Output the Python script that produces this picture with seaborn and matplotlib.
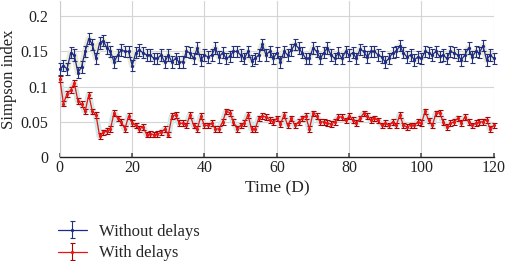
import matplotlib
matplotlib.use("Agg")
import matplotlib.pyplot as plt
import seaborn as sns
import pandas as pd

# time in days, 0..120
days = list(range(121))

without_delays = [
    0.125, 0.130, 0.125, 0.148, 0.145, 0.120, 0.128, 0.150, 0.168, 0.160,
    0.140, 0.162, 0.165, 0.155, 0.150, 0.135, 0.145, 0.152, 0.150, 0.150,
    0.130, 0.148, 0.152, 0.148, 0.145, 0.145, 0.140, 0.140, 0.145, 0.135,
    0.145, 0.135, 0.140, 0.135, 0.135, 0.150, 0.148, 0.140, 0.155, 0.138,
    0.145, 0.142, 0.145, 0.155, 0.142, 0.148, 0.140, 0.143, 0.150, 0.150,
    0.145, 0.140, 0.150, 0.137, 0.140, 0.145, 0.160, 0.145, 0.150, 0.140,
    0.148, 0.135, 0.150, 0.145, 0.152, 0.160, 0.155, 0.148, 0.140, 0.140,
    0.155, 0.150, 0.140, 0.148, 0.155, 0.145, 0.140, 0.148, 0.140, 0.150,
    0.145, 0.148, 0.140, 0.153, 0.150, 0.142, 0.150, 0.150, 0.145, 0.142,
    0.135, 0.140, 0.148, 0.150, 0.158, 0.148, 0.142, 0.145, 0.138, 0.142,
    0.140, 0.150, 0.148, 0.145, 0.150, 0.143, 0.145, 0.140, 0.150, 0.148,
    0.145, 0.138, 0.145, 0.155, 0.142, 0.150, 0.148, 0.158, 0.138, 0.145,
    0.140,
]

with_delays = [
    0.111, 0.076, 0.090, 0.095, 0.105, 0.080, 0.075, 0.065, 0.088, 0.065,
    0.060, 0.030, 0.035, 0.037, 0.040, 0.063, 0.055, 0.050, 0.040, 0.058,
    0.048, 0.045, 0.040, 0.043, 0.032, 0.033, 0.032, 0.033, 0.035, 0.040,
    0.032, 0.058, 0.060, 0.048, 0.048, 0.045, 0.060, 0.045, 0.040, 0.058,
    0.045, 0.045, 0.048, 0.040, 0.040, 0.050, 0.065, 0.063, 0.050, 0.040,
    0.045, 0.048, 0.060, 0.040, 0.040, 0.055, 0.058, 0.057, 0.053, 0.050,
    0.055, 0.047, 0.060, 0.045, 0.055, 0.045, 0.050, 0.055, 0.058, 0.040,
    0.062, 0.058, 0.050, 0.050, 0.048, 0.047, 0.050, 0.057, 0.057, 0.052,
    0.058, 0.053, 0.048, 0.055, 0.062, 0.058, 0.053, 0.055, 0.052, 0.045,
    0.048, 0.045, 0.050, 0.045, 0.060, 0.045, 0.043, 0.045, 0.045, 0.050,
    0.048, 0.065, 0.052, 0.045, 0.062, 0.063, 0.050, 0.043, 0.048, 0.050,
    0.055, 0.048, 0.057, 0.050, 0.045, 0.048, 0.050, 0.050, 0.053, 0.040,
    0.045,
]

without_err = 0.008
with_err = 0.004

x_ticks = [0, 20, 40, 60, 80, 100, 120]
y_ticks = [0, 0.05, 0.1, 0.15, 0.2]
y_ticklabels = ["0", "0.05", "0.1", "0.15", "0.2"]

df = pd.DataFrame({"Time": days, "Without delays": without_delays, "With delays": with_delays})

sns.set_theme(style="whitegrid")
plt.rcParams["font.family"] = ["Liberation Serif", "DejaVu Serif"]

fig = plt.figure(figsize=(5.07, 2.61), dpi=100)
ax = fig.add_axes([0.118, 0.398, 0.856, 0.598])

# pale halo behind each trace
sns.lineplot(data=df, x="Time", y="Without delays", ax=ax, color="#ececd4",
             linewidth=4.5, legend=False, zorder=1)
sns.lineplot(data=df, x="Time", y="With delays", ax=ax, color="#cfeaea",
             linewidth=4.5, legend=False, zorder=1)

ax.errorbar(df["Time"], df["Without delays"], yerr=without_err, fmt="-",
            color="#1c2a8c", ecolor="#24307a", elinewidth=0.8, capsize=1.8,
            capthick=0.8, linewidth=0.9, marker="o", markersize=1.3,
            label="Without delays", zorder=3, clip_on=False)
ax.errorbar(df["Time"], df["With delays"], yerr=with_err, fmt="-",
            color="#ee1111", ecolor="#b00000", elinewidth=0.8, capsize=1.8,
            capthick=0.8, linewidth=0.9, marker="o", markersize=1.3,
            label="With delays", zorder=3, clip_on=False)

ax.set_xlim(0, 120)
ax.set_ylim(0, 0.2215)
ax.set_xticks(x_ticks)
ax.set_yticks(y_ticks)
ax.set_yticklabels(y_ticklabels)
ax.tick_params(labelsize=11.5, colors="#222222", pad=2)
ax.tick_params(axis="x", direction="in", length=3, bottom=True, color="#555555")
ax.grid(True, color="#d4d4d4", linewidth=0.8)
for side in ("top", "right"):
    ax.spines[side].set_visible(False)
ax.spines["left"].set_color("#cccccc")
ax.spines["left"].set_linewidth(0.8)
ax.spines["bottom"].set_color("#222222")
ax.spines["bottom"].set_linewidth(1.0)

ax.set_xlabel("Time (D)", fontsize=12.5, color="#222222", labelpad=3)
ax.set_ylabel("Simpson index", fontsize=12, color="#222222", labelpad=3)

fig.legend(loc="upper left", bbox_to_anchor=(0.097, 0.175), frameon=False,
           fontsize=12, handlelength=1.75, handletextpad=0.75, labelspacing=0.35,
           borderpad=0)

fig.savefig("out.png", dpi=100)
